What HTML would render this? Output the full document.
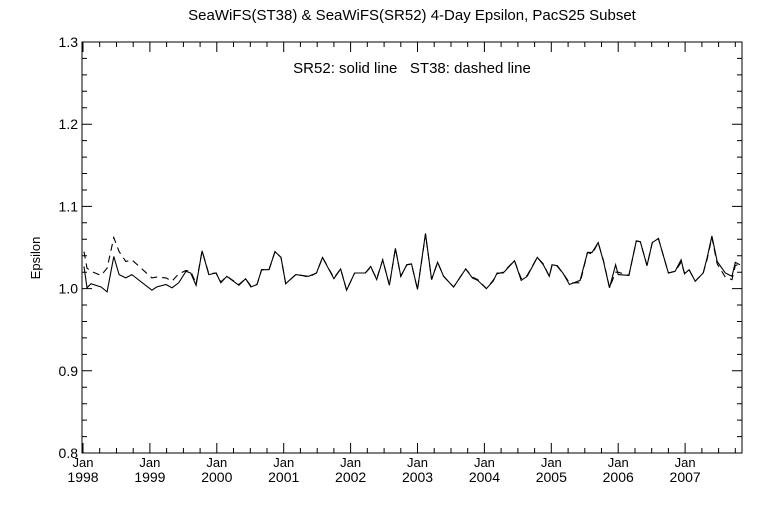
<!DOCTYPE html>
<html><head><meta charset="utf-8"><style>
html,body{margin:0;padding:0;background:#fff;}
svg{display:block;font-family:"Liberation Sans",sans-serif;}
</style></head><body>
<svg id="chart" width="768" height="512" viewBox="0 0 768 512">
<rect x="0" y="0" width="768" height="512" fill="#fff"/>
<text x="412" y="20" font-size="15" text-anchor="middle" fill="#000">SeaWiFS(ST38) &amp; SeaWiFS(SR52) 4-Day Epsilon, PacS25 Subset</text>
<text x="412" y="73" font-size="15" text-anchor="middle" fill="#000">SR52: solid line&#160;&#160;&#160;ST38: dashed line</text>
<text x="40" y="258" font-size="13" text-anchor="middle" transform="rotate(-90 40 258)" fill="#000">Epsilon</text>
<g id="axes"></g>
<g id="series"></g>
</svg>
<script>
const times=[1998.015,1998.06,1998.12,1998.27,1998.36,1998.46,1998.54,1998.64,1998.73,1999.03,1999.10,1999.24,1999.33,1999.43,1999.54,1999.61,1999.69,1999.78,1999.88,1999.99,2000.06,2000.15,2000.33,2000.43,2000.51,2000.60,2000.67,2000.78,2000.87,2000.96,2001.03,2001.18,2001.27,2001.37,2001.49,2001.58,2001.75,2001.85,2001.94,2002.06,2002.22,2002.30,2002.39,2002.48,2002.58,2002.67,2002.75,2002.84,2002.91,2003.00,2003.12,2003.21,2003.30,2003.39,2003.54,2003.72,2003.82,2003.90,2004.03,2004.13,2004.19,2004.28,2004.45,2004.55,2004.64,2004.79,2004.88,2004.97,2005.01,2005.09,2005.18,2005.27,2005.43,2005.54,2005.61,2005.70,2005.78,2005.87,2005.96,2006.00,2006.16,2006.27,2006.33,2006.43,2006.51,2006.60,2006.75,2006.85,2006.94,2006.99,2007.06,2007.15,2007.27,2007.33,2007.40,2007.48,2007.60,2007.70,2007.75,2007.82];
const sr52=[1.027,1.001,1.006,1.002,0.996,1.039,1.017,1.013,1.017,0.998,1.002,1.005,1.001,1.007,1.021,1.019,1.004,1.046,1.017,1.019,1.007,1.015,1.004,1.012,1.002,1.005,1.023,1.023,1.045,1.038,1.006,1.017,1.016,1.015,1.019,1.038,1.012,1.024,0.998,1.019,1.019,1.027,1.011,1.035,1.004,1.049,1.015,1.029,1.030,0.999,1.067,1.011,1.032,1.015,1.002,1.024,1.013,1.010,1.000,1.009,1.019,1.019,1.034,1.010,1.015,1.038,1.029,1.015,1.029,1.028,1.018,1.005,1.010,1.044,1.044,1.056,1.033,1.001,1.029,1.017,1.016,1.058,1.057,1.028,1.056,1.061,1.019,1.021,1.035,1.018,1.023,1.009,1.019,1.038,1.064,1.033,1.019,1.015,1.032,1.029];
const st38=[1.045,1.025,1.021,1.016,1.025,1.062,1.045,1.033,1.035,1.013,1.014,1.013,1.009,1.018,1.022,1.021,1.006,1.046,1.018,1.019,1.008,1.015,1.005,1.012,1.003,1.005,1.023,1.023,1.045,1.038,1.006,1.017,1.016,1.014,1.019,1.038,1.013,1.024,0.998,1.019,1.019,1.026,1.012,1.035,1.004,1.049,1.015,1.029,1.030,0.999,1.066,1.011,1.032,1.015,1.002,1.024,1.014,1.011,1.000,1.010,1.018,1.020,1.034,1.012,1.016,1.038,1.030,1.015,1.028,1.027,1.018,1.007,1.007,1.044,1.042,1.056,1.034,1.001,1.020,1.020,1.016,1.058,1.057,1.028,1.056,1.061,1.019,1.021,1.032,1.019,1.023,1.009,1.019,1.036,1.062,1.030,1.014,1.011,1.028,1.030];
const yTicks=[0.8,0.9,1.0,1.1,1.2,1.3];
const yTickLabels=["0.8","0.9","1.0","1.1","1.2","1.3"];
const xYears=[1998,1999,2000,2001,2002,2003,2004,2005,2006,2007];

const L=82,R=742,T=42,B=453;
const X0=1997.985,X1=2007.85;
const xs=t=>L+(t-X0)/(X1-X0)*(R-L);
const ys=v=>B-(v-0.8)/(0.5)*(B-T);
const NS="http://www.w3.org/2000/svg";
function mk(tag,parent){const e=document.createElementNS(NS,tag);parent.appendChild(e);return e;}
const axes=document.getElementById('axes');
const frame=mk('rect',axes);


frame.setAttribute('x',L);frame.setAttribute('y',T);frame.setAttribute('width',R-L);frame.setAttribute('height',B-T);
frame.setAttribute('fill','none');frame.setAttribute('stroke','#000');frame.setAttribute('stroke-width','1');
let d='';
for(let v=0.8;v<=1.3001;v+=0.02){const y=ys(v).toFixed(1);const major=Math.abs(Math.round(v*10)-v*10)<1e-6;const len=major?10:5;d+=`M${L} ${y}h${len}M${R} ${y}h${-len}`;}
for(let t=1998;t<=2007.9;t+=0.25){if(t<X0||t>X1)continue;const x=xs(t).toFixed(1);const major=Math.abs(t-Math.round(t))<1e-6;const len=major?10:5;d+=`M${x} ${B}v${-len}M${x} ${T}v${len}`;}
const tk=mk('path',axes);


tk.setAttribute('d',d);tk.setAttribute('stroke','#000');tk.setAttribute('fill','none');
yTicks.forEach((v,i)=>{const t=mk('text',axes);


t.setAttribute('x',L-4);t.setAttribute('y',ys(v)+5);t.setAttribute('font-size','14');t.setAttribute('text-anchor','end');t.textContent=yTickLabels[i];});
xYears.forEach(yr=>{const x=xs(yr);
const a=mk('text',axes);


a.setAttribute('x',x);a.setAttribute('y',B+14);a.setAttribute('font-size','13');a.setAttribute('text-anchor','middle');a.textContent='Jan';
const b=mk('text',axes);


b.setAttribute('x',x);b.setAttribute('y',B+29);b.setAttribute('font-size','14');b.setAttribute('text-anchor','middle');b.textContent=String(yr);});
const ser=document.getElementById('series');
function line(vals,dash,name){const p=mk('path',ser);


p.setAttribute('d',vals.map((v,i)=>(i?'L':'M')+xs(times[i]).toFixed(1)+' '+ys(v).toFixed(1)).join(''));
p.setAttribute('fill','none');p.setAttribute('stroke','#000');p.setAttribute('stroke-width','1.1');
if(dash)p.setAttribute('stroke-dasharray','7 5');}
line(st38,true,'st38-dashed-line');
line(sr52,false,'sr52-solid-line');
</script>
</body></html>
